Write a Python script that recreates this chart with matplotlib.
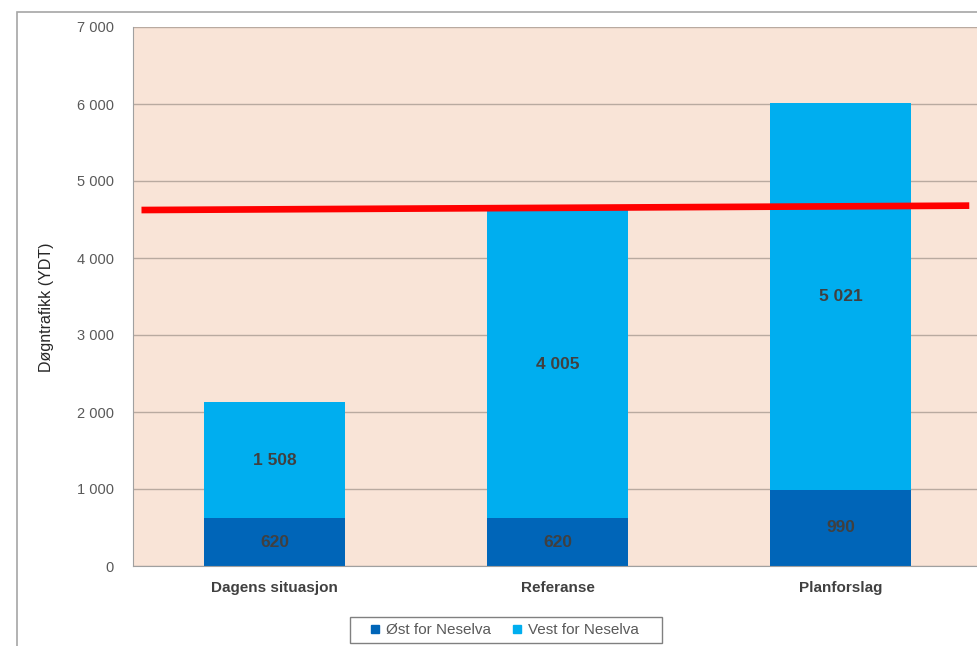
import matplotlib
matplotlib.use("Agg")
import matplotlib.pyplot as plt
from matplotlib.patches import Rectangle
from matplotlib.lines import Line2D
from matplotlib.ticker import FuncFormatter

plt.rcParams['font.family'] = ['Liberation Sans', 'DejaVu Sans']

categories = ["Dagens situasjon", "Referanse", "Planforslag"]
ost = [620, 620, 990]
vest = [1508, 4005, 5021]
series_names = ["Øst for Neselva", "Vest for Neselva"]
threshold_x = [-0.47, 2.455]
threshold_y = [4623, 4680]
y_label = "Døgntrafikk (YDT)"

W, H = 978, 646
fig = plt.figure(figsize=(W / 100, H / 100), dpi=100)
fig.patch.set_facecolor("white")

# outer chart border
fig.patches.append(Rectangle((17 / W, -0.05), 1.1, (646 - 12) / H + 0.05,
                             transform=fig.transFigure, fill=False,
                             edgecolor="#a6a6a6", linewidth=1.2, clip_on=False))

ax = fig.add_axes([133 / W, (H - 566) / H, (982 - 133) / W, (566 - 27) / H])
ax.set_facecolor("#f9e4d7")

x = list(range(len(categories)))
c_dark = "#0065b8"
c_light = "#00aeef"
b1 = ax.bar(x, ost, width=0.5, color=c_dark, label=series_names[0], zorder=2)
b2 = ax.bar(x, vest, width=0.5, bottom=ost, color=c_light, label=series_names[1], zorder=2)

fmt = lambda v: f"{v:,.0f}".replace(",", " ")
for xi, o, v in zip(x, ost, vest):
    ax.text(xi, o / 2, fmt(o), ha="center", va="center", fontsize=12.5,
            fontweight="bold", color="#404040", zorder=3)
    ax.text(xi, o + v / 2, fmt(v), ha="center", va="center", fontsize=12.5,
            fontweight="bold", color="#404040", zorder=3)

ax.plot(threshold_x, threshold_y, color="#ff0000", linewidth=4.8,
        solid_capstyle="butt", zorder=4)

ax.set_xlim(-0.5, 2.5)
ax.set_ylim(0, 7000)
ax.set_yticks(range(0, 7001, 1000))
ax.yaxis.set_major_formatter(FuncFormatter(lambda v, p: fmt(v)))
ax.grid(axis="y", color="#b9aaa0", linewidth=1.0, zorder=1)
ax.set_axisbelow(True)
ax.set_xticks(x)
ax.set_xticklabels(categories, fontsize=11, fontweight="bold", color="#404040")
ax.tick_params(axis="x", length=0, pad=11)
ax.tick_params(axis="y", length=0, pad=14, labelsize=10.5, labelcolor="#595959")
for s in ["top", "right"]:
    ax.spines[s].set_visible(False)
ax.spines["left"].set_color("#a0a0a0")
ax.spines["bottom"].set_color("#a0a0a0")

fig.text(47 / W, 1 - 307 / H, y_label, rotation=90, ha="center", va="center",
         fontsize=11.5, color="#262626")

# legend frame
fig.patches.append(Rectangle((350 / W, 1 - 643 / H), (662 - 350) / W, 26 / H,
                             transform=fig.transFigure, facecolor="white",
                             edgecolor="#808080", linewidth=1.0, zorder=5))
handles = [Line2D([], [], linestyle="none", marker="s", markersize=5.5,
                  markerfacecolor=c, markeredgecolor=c) for c in (c_dark, c_light)]
leg = fig.legend(handles=handles, labels=series_names, loc="center",
                 bbox_to_anchor=(504 / W, 1 - 630 / H), ncol=2, frameon=False,
                 fontsize=11, handlelength=0.8, handletextpad=0.3,
                 columnspacing=1.3, borderpad=0.3, borderaxespad=0)
leg.set_zorder(6)
for t in leg.get_texts():
    t.set_color("#595959")

fig.savefig("out.png", dpi=100)
